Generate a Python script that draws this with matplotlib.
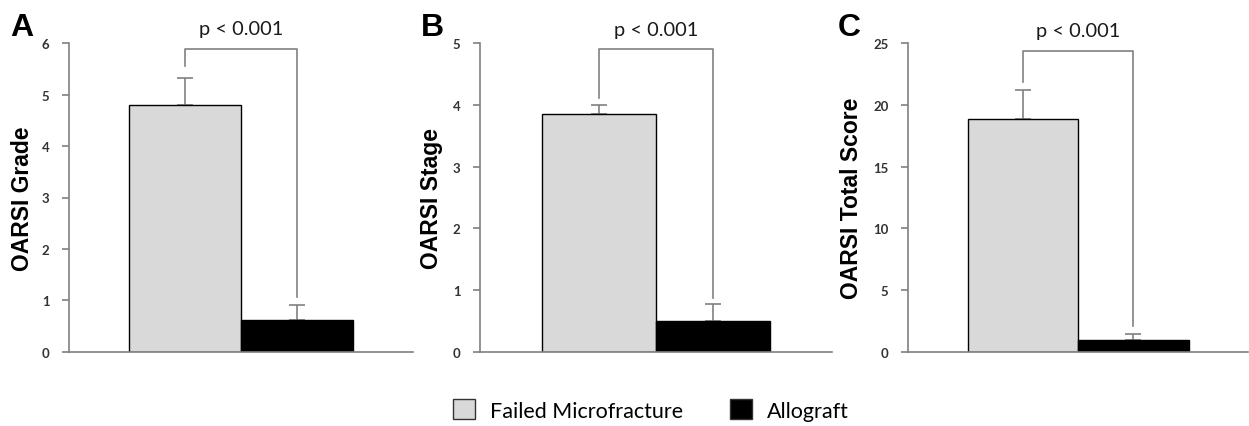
import numpy as np
import matplotlib
matplotlib.use("Agg")
import matplotlib.pyplot as plt
from matplotlib.patches import Patch

groups = ["Failed Microfracture", "Allograft"]
colors = ["#d9d9d9", "#000000"]

panels = ["A", "B", "C"]
ylabels = ["OARSI Grade", "OARSI Stage", "OARSI Total Score"]
means = [[4.80, 0.62], [3.86, 0.50], [18.86, 0.95]]
errs = [[0.52, 0.29], [0.14, 0.28], [2.34, 0.46]]
ymax = [6, 5, 25]
ystep = [1, 1, 5]
# significance bracket: top, left leg end, right leg end
bracket_top = [5.89, 4.90, 24.4]
bracket_left = [5.55, 4.11, 21.9]
bracket_right = [1.07, 0.87, 2.1]
ptext = "p < 0.001"

# axes boxes in pixels (left, right)
boxes = [(69, 413), (480, 832), (908, 1248)]
label_x = [-0.102, -0.105, -0.132]
letter_x = [10, 421, 838]
W, H = 1249, 427
bottom, top = 352.7, 44.3

fig = plt.figure(figsize=(W / 100, H / 100), dpi=100)
gray = "#808080"
width = 0.325

for i in range(3):
    l, r = boxes[i]
    ax = fig.add_axes([l / W, 1 - bottom / H, (r - l) / W, (bottom - top) / H])
    x = 0.5 + np.array([-width / 2, width / 2])
    ax.bar(x, means[i], width=width, color=colors, edgecolor="black", linewidth=1.0, zorder=2)
    ax.errorbar(x, means[i], yerr=[[0, 0], errs[i]], fmt="none", ecolor=gray,
                elinewidth=1.2, capsize=6, capthick=1.2, zorder=1)
    # bracket
    ax.plot([x[0], x[0], x[1], x[1]],
            [bracket_left[i], bracket_top[i], bracket_top[i], bracket_right[i]],
            color=gray, lw=1.2, zorder=1)
    ax.annotate(ptext, xy=(x.mean(), bracket_top[i]), xytext=(0, 14.4),
                textcoords="offset points", ha="center", va="center",
                fontsize=14.4, family="Lato", color="#1a1a1a")
    ax.set_xlim(0, 1)
    ax.set_ylim(0, ymax[i])
    ax.set_yticks(np.arange(0, ymax[i] + 0.1, ystep[i]))
    ax.set_xticks([])
    for s in ["top", "right"]:
        ax.spines[s].set_visible(False)
    for s in ["left", "bottom"]:
        ax.spines[s].set_color(gray)
        ax.spines[s].set_linewidth(1.2)
    ax.tick_params(axis="y", direction="out", length=5, width=1.2, color=gray,
                   labelsize=9.5, labelcolor="#333333", pad=9)
    for t in ax.get_yticklabels():
        t.set_family("Lato")
        t.set_fontweight("bold")
    ax.set_ylabel(ylabels[i], fontsize=16.5, fontweight="bold", family="Liberation Sans")
    ax.yaxis.set_label_coords(label_x[i], 0.5)
    fig.text(letter_x[i] / W, 1 - 13 / H, panels[i], fontsize=23, fontweight="bold",
             family="Liberation Sans", va="top")

handles = [Patch(facecolor=colors[k], edgecolor="#333333", linewidth=1.0, label=groups[k]) for k in range(2)]
fig.legend(handles=handles, loc="center", bbox_to_anchor=(651 / W, 1 - 411 / H), ncol=2,
           frameon=False, prop={"family": "Lato", "size": 15.5}, handlelength=1.0,
           handleheight=1.0, handletextpad=0.7, columnspacing=2.2)

fig.savefig("out.png", dpi=100)
